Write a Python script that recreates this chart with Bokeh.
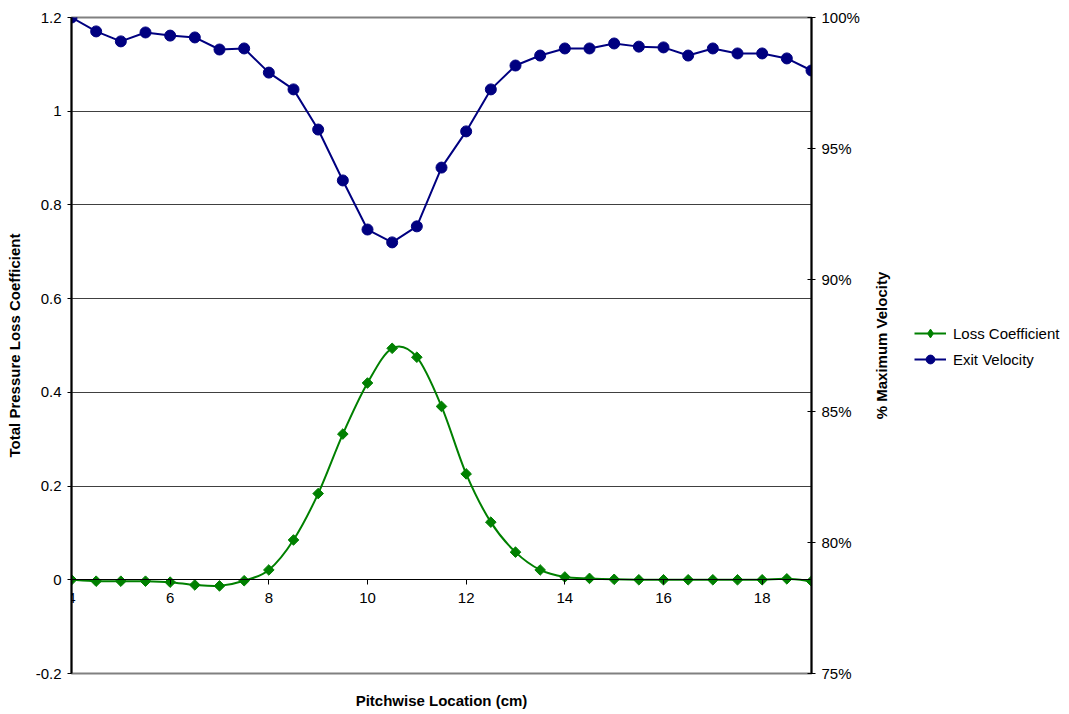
import numpy as np
from bokeh.plotting import figure
from bokeh.layouts import row
from bokeh.models import (Range1d, LinearAxis, FixedTicker, CustomJSTickFormatter,
                          PrintfTickFormatter, Legend, LegendItem)
from bokeh.embed import file_html
from bokeh.resources import INLINE

# ---------------- data ----------------
pitch = [4.0, 4.5, 5.0, 5.5, 6.0, 6.5, 7.0, 7.5, 8.0, 8.5, 9.0, 9.5, 10.0, 10.5,
         11.0, 11.5, 12.0, 12.5, 13.0, 13.5, 14.0, 14.5, 15.0, 15.5, 16.0, 16.5,
         17.0, 17.5, 18.0, 18.5, 19.0]
loss_coefficient = [0.0, -0.003, -0.003, -0.003, -0.005, -0.011, -0.013, -0.002,
                    0.021, 0.085, 0.184, 0.311, 0.420, 0.494, 0.475, 0.370, 0.226,
                    0.123, 0.059, 0.021, 0.006, 0.003, 0.001, 0.0, 0.0, 0.0, 0.0,
                    0.0, 0.0, 0.002, -0.003]
exit_velocity = [100.0, 99.47, 99.09, 99.43, 99.31, 99.24, 98.78, 98.82, 97.90,
                 97.26, 95.73, 93.79, 91.92, 91.43, 92.04, 94.28, 95.66, 97.26,
                 98.17, 98.55, 98.82, 98.82, 99.01, 98.89, 98.86, 98.55, 98.82,
                 98.63, 98.63, 98.44, 97.98]
x_ticks = [4, 6, 8, 10, 12, 14, 16, 18]
loss_ticks = [-0.2, 0.0, 0.2, 0.4, 0.6, 0.8, 1.0, 1.2]
vel_ticks = [75, 80, 85, 90, 95, 100]
series_names = ["Loss Coefficient", "Exit Velocity"]

FONT = "Liberation Sans"
GREEN = "#008000"
NAVY = "#000080"

# ================= main chart =================
p = figure(width=862, height=714, output_backend="svg", toolbar_location=None,
           x_range=Range1d(4, 19), y_range=Range1d(-0.2, 1.2),
           min_border_left=71, min_border_right=50, min_border_top=17,
           min_border_bottom=41, background_fill_color="white",
           border_fill_color="white", outline_line_color="#808080",
           outline_line_width=2)

p.extra_y_ranges = {"vel": Range1d(75, 100)}

# x axis crossing at 0
xax = p.xaxis[0]
xax.fixed_location = 0
xax.ticker = FixedTicker(ticks=x_ticks)
xax.minor_tick_line_color = None
xax.major_tick_in = 0
xax.major_tick_out = 5
xax.major_label_standoff = 8
xax.axis_line_color = "black"
xax.axis_line_width = 1
xax.major_tick_line_color = "black"
xax.major_label_text_font = FONT
xax.major_label_text_font_size = "15px"
xax.major_label_text_color = "black"

# bottom title (label-only axis)
xt = LinearAxis(axis_label="Pitchwise Location (cm)",
                ticker=FixedTicker(ticks=[]), axis_line_color=None,
                major_tick_line_color=None, minor_tick_line_color=None,
                major_tick_in=0, major_tick_out=0,
                major_label_text_font_size="0px", axis_label_standoff=18,
                axis_label_text_font=FONT, axis_label_text_font_size="15px",
                axis_label_text_font_style="bold", axis_label_text_color="black")
p.add_layout(xt, "below")

yax = p.yaxis[0]
yax.ticker = FixedTicker(ticks=loss_ticks)
yax.formatter = CustomJSTickFormatter(code="return String(Math.round(tick*10)/10);")
yax.minor_tick_line_color = None
yax.major_tick_in = 0
yax.major_tick_out = 4
yax.major_label_standoff = 6
yax.axis_line_color = "black"
yax.axis_line_width = 2
yax.major_tick_line_color = "black"
yax.major_label_text_font = FONT
yax.major_label_text_font_size = "15px"
yax.major_label_text_color = "black"
yax.axis_label = "Total Pressure Loss Coefficient"
yax.axis_label_text_font = FONT
yax.axis_label_text_font_size = "15px"
yax.axis_label_text_font_style = "bold"
yax.axis_label_text_color = "black"
yax.axis_label_standoff = 10

rax = LinearAxis(y_range_name="vel", ticker=FixedTicker(ticks=vel_ticks),
                 formatter=PrintfTickFormatter(format="%d%%"),
                 minor_tick_line_color=None, major_tick_in=4, major_tick_out=4,
                 major_label_standoff=6, axis_line_color="black", axis_line_width=2,
                 major_tick_line_color="black", major_label_text_font=FONT,
                 major_label_text_font_size="15px", major_label_text_color="black")
p.add_layout(rax, "right")

p.xgrid.visible = False
p.ygrid[0].ticker = FixedTicker(ticks=loss_ticks)
p.ygrid.grid_line_color = "#404040"
p.ygrid.grid_line_width = 1

# loss coefficient: smoothed curve (Catmull-Rom as cubic beziers) + markers
xs = np.array(pitch)
ys = np.array(loss_coefficient)
n = len(xs)
idx = np.arange(n - 1)
i0 = np.clip(idx - 1, 0, n - 1)
i1 = idx
i2 = idx + 1
i3 = np.clip(idx + 2, 0, n - 1)
cx0 = xs[i1] + (xs[i2] - xs[i0]) / 6.0
cy0 = ys[i1] + (ys[i2] - ys[i0]) / 6.0
cx1 = xs[i2] - (xs[i3] - xs[i1]) / 6.0
cy1 = ys[i2] - (ys[i3] - ys[i1]) / 6.0
p.bezier(x0=xs[i1], y0=ys[i1], x1=xs[i2], y1=ys[i2], cx0=cx0, cy0=cy0,
         cx1=cx1, cy1=cy1, line_color=GREEN, line_width=2)
p.scatter(pitch, loss_coefficient, marker="square", angle=np.pi / 4,
          size=7.5, fill_color=GREEN, line_color=GREEN)

# exit velocity on the right axis
p.line(pitch, exit_velocity, y_range_name="vel", line_color=NAVY, line_width=2)
p.scatter(pitch, exit_velocity, y_range_name="vel", marker="circle",
          size=11, fill_color=NAVY, line_color=NAVY)

# ================= right strip: right-axis title + legend =================
q = figure(width=207, height=714, output_backend="svg", toolbar_location=None,
           x_range=Range1d(0, 1), y_range=Range1d(0, 1),
           x_axis_location=None, y_axis_location="left",
           min_border_left=44, min_border_right=0, min_border_top=17,
           min_border_bottom=41, outline_line_color=None,
           background_fill_color="white", border_fill_color="white")
q.xgrid.visible = False
q.ygrid.visible = False
qa = q.yaxis[0]
qa.ticker = FixedTicker(ticks=[])
qa.axis_line_color = None
qa.major_tick_line_color = None
qa.minor_tick_line_color = None
qa.major_tick_in = 0
qa.major_tick_out = 0
qa.major_label_text_font_size = "0px"
qa.axis_label = "% Maximum Velocity"
qa.axis_label_text_font = FONT
qa.axis_label_text_font_size = "15px"
qa.axis_label_text_font_style = "bold"
qa.axis_label_text_color = "black"
qa.axis_label_standoff = 17

# legend keys (series drawn outside this strip's view range, only their keys show)
k_loss_line = q.line(pitch, loss_coefficient, line_color=GREEN, line_width=2)
k_loss_pts = q.scatter(pitch, loss_coefficient, marker="diamond", size=10,
                       fill_color=GREEN, line_color=GREEN)
k_vel_line = q.line(pitch, exit_velocity, line_color=NAVY, line_width=2)
k_vel_pts = q.scatter(pitch, exit_velocity, marker="circle", size=11,
                      fill_color=NAVY, line_color=NAVY)

legend = Legend(items=[
    LegendItem(label=series_names[0], renderers=[k_loss_line, k_loss_pts]),
    LegendItem(label=series_names[1], renderers=[k_vel_line, k_vel_pts]),
], location=(8, 303), orientation="vertical", border_line_color=None,
    background_fill_alpha=0, padding=0, margin=0, spacing=4, glyph_width=32,
    glyph_height=22, label_height=22, label_standoff=7,
    label_text_font=FONT, label_text_font_size="15px", label_text_color="black")
q.add_layout(legend, "center")

layout = row(p, q, spacing=0)
open("out.html", "w").write(file_html(layout, INLINE))
